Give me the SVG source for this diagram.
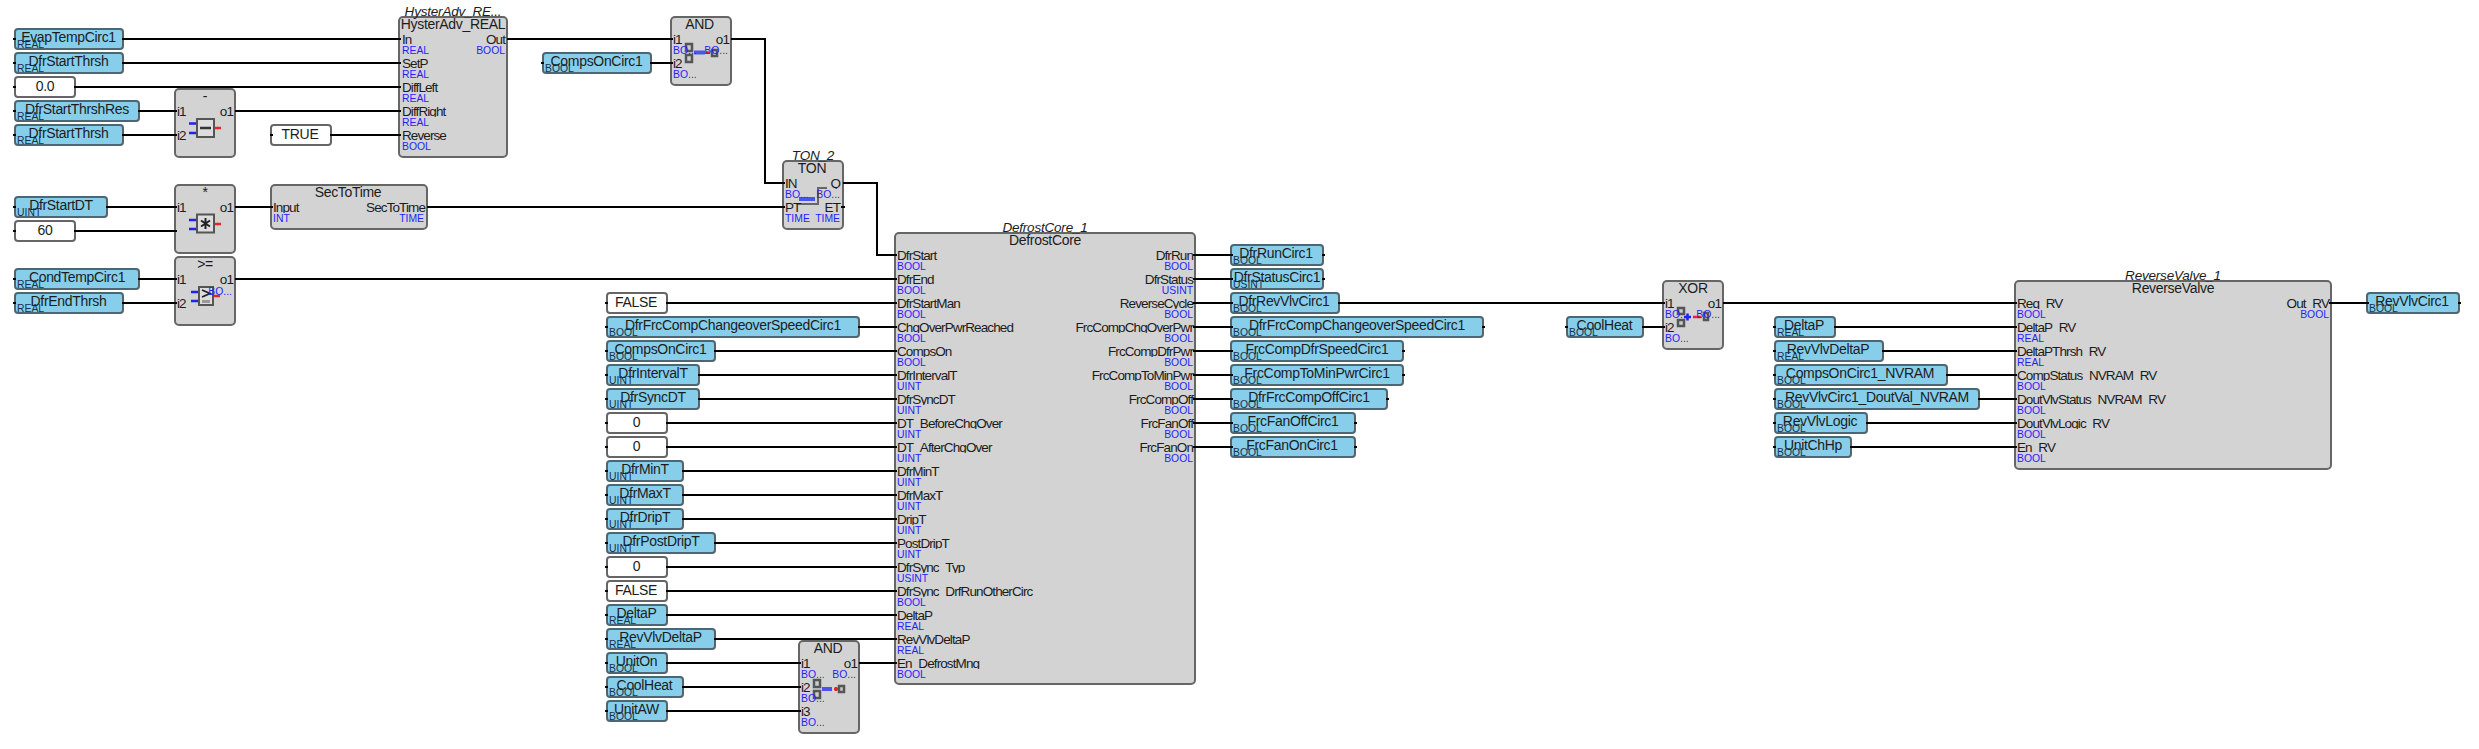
<svg xmlns="http://www.w3.org/2000/svg" width="2479" height="749" viewBox="0 0 2479 749">
<style>
text{font-family:"Liberation Sans",Arial,sans-serif;fill:#1c1c1c}
.b{fill:#d3d3d3;stroke:#666;stroke-width:2}
.v{fill:#87ceeb;stroke:#4f6672;stroke-width:2}
.c{fill:#fff;stroke:#666;stroke-width:2}
.vn,.cn,.tt{font-size:14px;letter-spacing:-.32px;text-anchor:middle}
.vt{font-size:10.4px;fill:#16304e}
.it{font-size:13.5px;letter-spacing:-.2px;font-style:italic;text-anchor:middle;clip-path:url(#tops)}
.n,.nr{font-size:13.5px;letter-spacing:-.9px;clip-path:url(#rows)}
.nr{text-anchor:end}
.t,.tr{font-size:10.4px;fill:#1f1fff}
.tr{text-anchor:end}
.w{fill:none;stroke:#000;stroke-width:2}
.ic{fill:#ddd;stroke:#555;stroke-width:2}
.id{fill:#ccc;stroke:#555;stroke-width:2.500}
.ib{stroke:#1f1fff;stroke-width:2.500;fill:none}
.ia{stroke:#4a55ee;stroke-width:4;fill:none}
.ir{stroke:#e22;stroke-width:2.500;fill:none}
</style>
<defs>
<clipPath id="rows"><path d="M0 29h2479v16H0zM0 53h2479v16H0zM0 77h2479v16H0zM0 101h2479v16H0zM0 125h2479v16H0zM0 197h2479v16H0zM0 173h2479v16H0zM0 245h2479v16H0zM0 269h2479v16H0zM0 293h2479v16H0zM0 317h2479v16H0zM0 341h2479v16H0zM0 365h2479v16H0zM0 389h2479v16H0zM0 413h2479v16H0zM0 437h2479v16H0zM0 461h2479v16H0zM0 485h2479v16H0zM0 509h2479v16H0zM0 533h2479v16H0zM0 557h2479v16H0zM0 581h2479v16H0zM0 605h2479v16H0zM0 629h2479v16H0zM0 653h2479v16H0zM0 677h2479v16H0zM0 701h2479v16H0z"/></clipPath>
<clipPath id="tops"><path d="M390 0h130v19H390zM780 145h70v18H780zM990 215h110v20H990zM2100 263h150v20H2100z"/></clipPath>
</defs>
<rect width="2479" height="749" fill="#fff"/>
<g id="inputs-left">
<g id="var-EvapTempCirc1"><rect class="v" x="15" y="29" width="108" height="20" rx="3"/><text class="vn" x="68.500" y="41.500">EvapTempCirc1</text><text class="vt" x="17" y="48">REAL</text></g>
<g id="var-DfrStartThrsh"><rect class="v" x="15" y="53" width="108" height="20" rx="3"/><text class="vn" x="68.500" y="65.500">DfrStartThrsh</text><text class="vt" x="17" y="72">REAL</text></g>
<g id="const-0-0"><rect class="c" x="15" y="77" width="60" height="20" rx="3"/><text class="cn" x="45" y="91">0.0</text></g>
<g id="var-DfrStartThrshRes"><rect class="v" x="15" y="101" width="124" height="20" rx="3"/><text class="vn" x="77" y="113.500">DfrStartThrshRes</text><text class="vt" x="17" y="120">REAL</text></g>
<g id="var-DfrStartThrsh-2"><rect class="v" x="15" y="125" width="108" height="20" rx="3"/><text class="vn" x="68.500" y="137.500">DfrStartThrsh</text><text class="vt" x="17" y="144">REAL</text></g>
<g id="const-TRUE"><rect class="c" x="271" y="125" width="60" height="20" rx="3"/><text class="cn" x="300" y="139">TRUE</text></g>
<g id="var-DfrStartDT"><rect class="v" x="15" y="197" width="92" height="20" rx="3"/><text class="vn" x="61" y="209.500">DfrStartDT</text><text class="vt" x="17" y="216">UINT</text></g>
<g id="const-60"><rect class="c" x="15" y="221" width="60" height="20" rx="3"/><text class="cn" x="45" y="235">60</text></g>
<g id="var-CondTempCirc1"><rect class="v" x="15" y="269" width="124" height="20" rx="3"/><text class="vn" x="77" y="281.500">CondTempCirc1</text><text class="vt" x="17" y="288">REAL</text></g>
<g id="var-DfrEndThrsh"><rect class="v" x="15" y="293" width="108" height="20" rx="3"/><text class="vn" x="68.500" y="305.500">DfrEndThrsh</text><text class="vt" x="17" y="312">REAL</text></g>
<g id="var-CompsOnCirc1"><rect class="v" x="543" y="53" width="108" height="20" rx="3"/><text class="vn" x="596.500" y="65.500">CompsOnCirc1</text><text class="vt" x="545" y="72">BOOL</text></g>
</g>
<g id="block-minus"><rect class="b" x="175" y="89" width="60" height="68" rx="4"/><text class="tt" x="205" y="101">-</text><text class="n" x="177" y="116">i1</text><text class="n" x="177" y="140">i2</text><text class="nr" x="233" y="116">o1</text>
<path class="ib" d="M189 123.500h8M189 133h8"/><path class="ir" d="M214 128h7"/><rect class="ic" x="197" y="119" width="17" height="18"/><path d="M200 128h11" stroke="#333" stroke-width="2.500"/></g>
<g id="block-mul"><rect class="b" x="175" y="185" width="60" height="68" rx="4"/><text class="tt" x="205" y="197">*</text><text class="n" x="177" y="212">i1</text><text class="n" x="177" y="236">i2</text><text class="nr" x="233" y="212">o1</text>
<path class="ib" d="M189 220h8M189 229h8"/><path class="ir" d="M214 224h7"/><rect class="ic" x="197" y="214.500" width="17" height="18"/><path d="M205.500 218v11M201 220.500l9 6M210 220.500l-9 6" stroke="#222" stroke-width="2"/></g>
<g id="block-ge"><rect class="b" x="175" y="257" width="60" height="68" rx="4"/><text class="tt" x="205" y="269">&gt;=</text><text class="n" x="177" y="284">i1</text><text class="n" x="177" y="308">i2</text><text class="nr" x="233" y="284">o1</text>
<path class="ib" d="M191 292h8M191 301h8"/><path class="ir" d="M213 296h7"/><rect class="ic" x="199" y="287" width="14" height="18"/><path d="M202 290l8 3.500-8 3.500" stroke="#222" stroke-width="1.800" fill="none"/><path d="M202 300h8v3h-8z" fill="#999"/><text class="tr" x="232" y="295">BO...</text></g>
<g id="block-HysterAdv"><rect class="b" x="399" y="17" width="108" height="140" rx="4"/><text class="it" x="453" y="16">HysterAdv_RE...</text><text class="tt" x="453" y="29">HysterAdv_REAL</text>
<text class="n" x="402" y="44">In</text><text class="t" x="402" y="54">REAL</text><text class="n" x="402" y="68">SetP</text><text class="t" x="402" y="78">REAL</text><text class="n" x="402" y="92">DiffLeft</text><text class="t" x="402" y="102">REAL</text><text class="n" x="402" y="116">DiffRight</text><text class="t" x="402" y="126">REAL</text><text class="n" x="402" y="140">Reverse</text><text class="t" x="402" y="150">BOOL</text>
<text class="nr" x="505" y="44">Out</text><text class="tr" x="505" y="54">BOOL</text></g>
<g id="block-SecToTime"><rect class="b" x="271" y="185" width="156" height="44" rx="4"/><text class="tt" x="348" y="197">SecToTime</text><text class="n" x="273" y="212">Input</text><text class="t" x="273" y="222">INT</text><text class="nr" x="425" y="212">SecToTime</text><text class="tr" x="424" y="222">TIME</text></g>
<g id="block-AND-1"><rect class="b" x="671" y="17" width="60" height="68" rx="4"/><rect class="id" x="686" y="44" width="6" height="7"/><rect class="id" x="686" y="55" width="6" height="7"/><path class="ia" d="M694 52.500h11"/><path class="ir" d="M706 52.500h4"/><rect class="id" x="712" y="50" width="5" height="6"/>
<text class="tt" x="699.500" y="29">AND</text><text class="n" x="673" y="44">i1</text><text class="t" x="673" y="54">BO...</text><text class="n" x="673" y="68">i2</text><text class="t" x="673" y="78">BO...</text><text class="nr" x="729" y="44">o1</text><text class="tr" x="728" y="54">BO...</text></g>
<g id="block-TON"><rect class="b" x="783" y="161" width="60" height="68" rx="4"/><text class="it" x="813" y="160">TON_2</text><text class="tt" x="812" y="173">TON</text>
<path d="M797 204h21v-16h9" fill="none" stroke="#666" stroke-width="2"/><path class="ia" d="M799 199h16" stroke-width="2"/>
<text class="n" x="785" y="188">IN</text><text class="t" x="785" y="198">BO...</text><text class="n" x="785" y="212">PT</text><text class="t" x="785" y="222">TIME</text><text class="nr" x="840" y="188">Q</text><text class="tr" x="840" y="198">BO...</text><text class="nr" x="840" y="212">ET</text><text class="tr" x="840" y="222">TIME</text></g>
<g id="inputs-core">
<g id="const-FALSE"><rect class="c" x="607" y="293" width="60" height="20" rx="3"/><text class="cn" x="636" y="307">FALSE</text></g>
<g id="var-DfrFrcCompChangeoverSpeedCirc1"><rect class="v" x="607" y="317" width="252" height="20" rx="3"/><text class="vn" x="733" y="329.500">DfrFrcCompChangeoverSpeedCirc1</text><text class="vt" x="609" y="336">BOOL</text></g>
<g id="var-CompsOnCirc1-2"><rect class="v" x="607" y="341" width="108" height="20" rx="3"/><text class="vn" x="660.500" y="353.500">CompsOnCirc1</text><text class="vt" x="609" y="360">BOOL</text></g>
<g id="var-DfrIntervalT"><rect class="v" x="607" y="365" width="92" height="20" rx="3"/><text class="vn" x="653" y="377.500">DfrIntervalT</text><text class="vt" x="609" y="384">UINT</text></g>
<g id="var-DfrSyncDT"><rect class="v" x="607" y="389" width="92" height="20" rx="3"/><text class="vn" x="653" y="401.500">DfrSyncDT</text><text class="vt" x="609" y="408">UINT</text></g>
<g id="const-0-a"><rect class="c" x="607" y="413" width="60" height="20" rx="3"/><text class="cn" x="636.500" y="427">0</text></g>
<g id="const-0-b"><rect class="c" x="607" y="437" width="60" height="20" rx="3"/><text class="cn" x="636.500" y="451">0</text></g>
<g id="var-DfrMinT"><rect class="v" x="607" y="461" width="76" height="20" rx="3"/><text class="vn" x="645" y="473.500">DfrMinT</text><text class="vt" x="609" y="480">UINT</text></g>
<g id="var-DfrMaxT"><rect class="v" x="607" y="485" width="76" height="20" rx="3"/><text class="vn" x="645" y="497.500">DfrMaxT</text><text class="vt" x="609" y="504">UINT</text></g>
<g id="var-DfrDripT"><rect class="v" x="607" y="509" width="76" height="20" rx="3"/><text class="vn" x="645" y="521.500">DfrDripT</text><text class="vt" x="609" y="528">UINT</text></g>
<g id="var-DfrPostDripT"><rect class="v" x="607" y="533" width="108" height="20" rx="3"/><text class="vn" x="661" y="545.500">DfrPostDripT</text><text class="vt" x="609" y="552">UINT</text></g>
<g id="const-0-c"><rect class="c" x="607" y="557" width="60" height="20" rx="3"/><text class="cn" x="636.500" y="571">0</text></g>
<g id="const-FALSE-2"><rect class="c" x="607" y="581" width="60" height="20" rx="3"/><text class="cn" x="636" y="595">FALSE</text></g>
<g id="var-DeltaP"><rect class="v" x="607" y="605" width="60" height="20" rx="3"/><text class="vn" x="636.500" y="617.500">DeltaP</text><text class="vt" x="609" y="624">REAL</text></g>
<g id="var-RevVlvDeltaP"><rect class="v" x="607" y="629" width="108" height="20" rx="3"/><text class="vn" x="660.500" y="641.500">RevVlvDeltaP</text><text class="vt" x="609" y="648">REAL</text></g>
<g id="var-UnitOn"><rect class="v" x="607" y="653" width="60" height="20" rx="3"/><text class="vn" x="636.500" y="665.500">UnitOn</text><text class="vt" x="609" y="672">BOOL</text></g>
<g id="var-CoolHeat"><rect class="v" x="607" y="677" width="76" height="20" rx="3"/><text class="vn" x="644.500" y="689.500">CoolHeat</text><text class="vt" x="609" y="696">BOOL</text></g>
<g id="var-UnitAW"><rect class="v" x="607" y="701" width="60" height="20" rx="3"/><text class="vn" x="636.500" y="713.500">UnitAW</text><text class="vt" x="609" y="720">BOOL</text></g>
</g>
<g id="block-AND-2"><rect class="b" x="799" y="641" width="60" height="92" rx="4"/><rect class="id" x="814" y="680" width="6" height="7"/><rect class="id" x="814" y="691" width="6" height="7"/><path class="ia" d="M822 689h10"/><path class="ir" d="M834 689h4M836 687v4" stroke-width="2"/><rect class="id" x="839" y="686" width="5" height="6"/>
<text class="tt" x="828" y="653">AND</text><text class="n" x="801" y="668">i1</text><text class="t" x="801" y="678">BO...</text><text class="n" x="801" y="692">i2</text><text class="t" x="801" y="702">BO...</text><text class="n" x="801" y="716">i3</text><text class="t" x="801" y="726">BO...</text><text class="nr" x="857" y="668">o1</text><text class="tr" x="856" y="678">BO...</text></g>
<g id="block-DefrostCore"><rect class="b" x="895" y="233" width="300" height="451" rx="4"/><text class="it" x="1045" y="232">DefrostCore_1</text><text class="tt" x="1045" y="245">DefrostCore</text>
<text class="n" x="897" y="260">DfrStart</text><text class="t" x="897" y="270">BOOL</text>
<text class="n" x="897" y="284">DfrEnd</text><text class="t" x="897" y="294">BOOL</text>
<text class="n" x="897" y="308">DfrStartMan</text><text class="t" x="897" y="318">BOOL</text>
<text class="n" x="897" y="332">ChgOverPwrReached</text><text class="t" x="897" y="342">BOOL</text>
<text class="n" x="897" y="356">CompsOn</text><text class="t" x="897" y="366">BOOL</text>
<text class="n" x="897" y="380">DfrIntervalT</text><text class="t" x="897" y="390">UINT</text>
<text class="n" x="897" y="404">DfrSyncDT</text><text class="t" x="897" y="414">UINT</text>
<text class="n" x="897" y="428">DT_BeforeChgOver</text><text class="t" x="897" y="438">UINT</text>
<text class="n" x="897" y="452">DT_AfterChgOver</text><text class="t" x="897" y="462">UINT</text>
<text class="n" x="897" y="476">DfrMinT</text><text class="t" x="897" y="486">UINT</text>
<text class="n" x="897" y="500">DfrMaxT</text><text class="t" x="897" y="510">UINT</text>
<text class="n" x="897" y="524">DripT</text><text class="t" x="897" y="534">UINT</text>
<text class="n" x="897" y="548">PostDripT</text><text class="t" x="897" y="558">UINT</text>
<text class="n" x="897" y="572">DfrSync_Typ</text><text class="t" x="897" y="582">USINT</text>
<text class="n" x="897" y="596">DfrSync_DrfRunOtherCirc</text><text class="t" x="897" y="606">BOOL</text>
<text class="n" x="897" y="620">DeltaP</text><text class="t" x="897" y="630">REAL</text>
<text class="n" x="897" y="644">RevVlvDeltaP</text><text class="t" x="897" y="654">REAL</text>
<text class="n" x="897" y="668">En_DefrostMng</text><text class="t" x="897" y="678">BOOL</text>
<text class="nr" x="1193" y="260">DfrRun</text><text class="tr" x="1193" y="270">BOOL</text>
<text class="nr" x="1193" y="284">DfrStatus</text><text class="tr" x="1193" y="294">USINT</text>
<text class="nr" x="1193" y="308">ReverseCycle</text><text class="tr" x="1193" y="318">BOOL</text>
<text class="nr" x="1193" y="332">FrcCompChgOverPwr</text><text class="tr" x="1193" y="342">BOOL</text>
<text class="nr" x="1193" y="356">FrcCompDfrPwr</text><text class="tr" x="1193" y="366">BOOL</text>
<text class="nr" x="1193" y="380">FrcCompToMinPwr</text><text class="tr" x="1193" y="390">BOOL</text>
<text class="nr" x="1193" y="404">FrcCompOff</text><text class="tr" x="1193" y="414">BOOL</text>
<text class="nr" x="1193" y="428">FrcFanOff</text><text class="tr" x="1193" y="438">BOOL</text>
<text class="nr" x="1193" y="452">FrcFanOn</text><text class="tr" x="1193" y="462">BOOL</text></g>
<g id="outputs-core">
<g id="var-DfrRunCirc1"><rect class="v" x="1231" y="245" width="92" height="20" rx="3"/><text class="vn" x="1276" y="257.500">DfrRunCirc1</text><text class="vt" x="1233" y="264">BOOL</text></g>
<g id="var-DfrStatusCirc1"><rect class="v" x="1231" y="269" width="92" height="20" rx="3"/><text class="vn" x="1277" y="281.500">DfrStatusCirc1</text><text class="vt" x="1233" y="288">USINT</text></g>
<g id="var-DfrRevVlvCirc1"><rect class="v" x="1231" y="293" width="108" height="20" rx="3"/><text class="vn" x="1284" y="305.500">DfrRevVlvCirc1</text><text class="vt" x="1233" y="312">BOOL</text></g>
<g id="var-DfrFrcCompChangeoverSpeedCirc1-out"><rect class="v" x="1231" y="317" width="252" height="20" rx="3"/><text class="vn" x="1357" y="329.500">DfrFrcCompChangeoverSpeedCirc1</text><text class="vt" x="1233" y="336">BOOL</text></g>
<g id="var-FrcCompDfrSpeedCirc1"><rect class="v" x="1231" y="341" width="172" height="20" rx="3"/><text class="vn" x="1317" y="353.500">FrcCompDfrSpeedCirc1</text><text class="vt" x="1233" y="360">BOOL</text></g>
<g id="var-FrcCompToMinPwrCirc1"><rect class="v" x="1231" y="365" width="172" height="20" rx="3"/><text class="vn" x="1317" y="377.500">FrcCompToMinPwrCirc1</text><text class="vt" x="1233" y="384">BOOL</text></g>
<g id="var-DfrFrcCompOffCirc1"><rect class="v" x="1231" y="389" width="156" height="20" rx="3"/><text class="vn" x="1309" y="401.500">DfrFrcCompOffCirc1</text><text class="vt" x="1233" y="408">BOOL</text></g>
<g id="var-FrcFanOffCirc1"><rect class="v" x="1231" y="413" width="124" height="20" rx="3"/><text class="vn" x="1293" y="425.500">FrcFanOffCirc1</text><text class="vt" x="1233" y="432">BOOL</text></g>
<g id="var-FrcFanOnCirc1"><rect class="v" x="1231" y="437" width="124" height="20" rx="3"/><text class="vn" x="1292" y="449.500">FrcFanOnCirc1</text><text class="vt" x="1233" y="456">BOOL</text></g>
</g>
<g id="var-CoolHeat-2"><rect class="v" x="1567" y="317" width="76" height="20" rx="3"/><text class="vn" x="1604.500" y="329.500">CoolHeat</text><text class="vt" x="1569" y="336">BOOL</text></g>
<g id="block-XOR"><rect class="b" x="1663" y="281" width="60" height="68" rx="4"/><rect class="id" x="1678" y="308" width="6" height="6"/><rect class="id" x="1678" y="320" width="6" height="6"/><path class="ib" d="M1684 317h7M1687.500 313.500v7"/><path class="ir" d="M1693 317h8"/><rect class="id" x="1704" y="313" width="4" height="7"/>
<text class="tt" x="1693" y="293">XOR</text><text class="n" x="1665" y="308">i1</text><text class="t" x="1665" y="318">BO...</text><text class="n" x="1665" y="332">i2</text><text class="t" x="1665" y="342">BO...</text><text class="nr" x="1721" y="308">o1</text><text class="tr" x="1720" y="318">BO...</text></g>
<g id="inputs-rv">
<g id="var-DeltaP-2"><rect class="v" x="1775" y="317" width="60" height="20" rx="3"/><text class="vn" x="1804" y="329.500">DeltaP</text><text class="vt" x="1777" y="336">REAL</text></g>
<g id="var-RevVlvDeltaP-2"><rect class="v" x="1775" y="341" width="108" height="20" rx="3"/><text class="vn" x="1828" y="353.500">RevVlvDeltaP</text><text class="vt" x="1777" y="360">REAL</text></g>
<g id="var-CompsOnCirc1_NVRAM"><rect class="v" x="1775" y="365" width="172" height="20" rx="3"/><text class="vn" x="1860" y="377.500">CompsOnCirc1_NVRAM</text><text class="vt" x="1777" y="384">BOOL</text></g>
<g id="var-RevVlvCirc1_DoutVal_NVRAM"><rect class="v" x="1775" y="389" width="204" height="20" rx="3"/><text class="vn" x="1877" y="401.500">RevVlvCirc1_DoutVal_NVRAM</text><text class="vt" x="1777" y="408">BOOL</text></g>
<g id="var-RevVlvLogic"><rect class="v" x="1775" y="413" width="92" height="20" rx="3"/><text class="vn" x="1820" y="425.500">RevVlvLogic</text><text class="vt" x="1777" y="432">BOOL</text></g>
<g id="var-UnitChHp"><rect class="v" x="1775" y="437" width="76" height="20" rx="3"/><text class="vn" x="1813" y="449.500">UnitChHp</text><text class="vt" x="1777" y="456">BOOL</text></g>
</g>
<g id="block-ReverseValve"><rect class="b" x="2015" y="281" width="316" height="188" rx="4"/><text class="it" x="2173" y="280">ReverseValve_1</text><text class="tt" x="2173" y="293">ReverseValve</text>
<text class="n" x="2017" y="308">Req_RV</text><text class="t" x="2017" y="318">BOOL</text>
<text class="n" x="2017" y="332">DeltaP_RV</text><text class="t" x="2017" y="342">REAL</text>
<text class="n" x="2017" y="356">DeltaPThrsh_RV</text><text class="t" x="2017" y="366">REAL</text>
<text class="n" x="2017" y="380">CompStatus_NVRAM_RV</text><text class="t" x="2017" y="390">BOOL</text>
<text class="n" x="2017" y="404">DoutVlvStatus_NVRAM_RV</text><text class="t" x="2017" y="414">BOOL</text>
<text class="n" x="2017" y="428">DoutVlvLogic_RV</text><text class="t" x="2017" y="438">BOOL</text>
<text class="n" x="2017" y="452">En_RV</text><text class="t" x="2017" y="462">BOOL</text>
<text class="nr" x="2329" y="308">Out_RV</text><text class="tr" x="2329" y="318">BOOL</text></g>
<g id="var-RevVlvCirc1"><rect class="v" x="2367" y="293" width="92" height="20" rx="3"/><text class="vn" x="2412" y="305.500">RevVlvCirc1</text><text class="vt" x="2369" y="312">BOOL</text></g>
<g id="connectors">
<path class="w" d="M122 39H401M122 63H401M74 87H401M138 111H177M122 135H177M235 111H401M330 135H401M106 207H177M74 231H177M235 207H273M427 207H785M138 279H177M122 303H177M235 279H897M650 63H673M507 39H673M731 39H765V183H785M843 183H877V255H897"/>
<path class="w" d="M666 303H897M858 327H897M714 351H897M698 375H897M698 399H897M666 423H897M666 447H897M682 471H897M682 495H897M682 519H897M714 543H897M666 567H897M666 591H897M666 615H897M714 639H897M666 663H801M682 687H801M666 711H801M859 663H897"/>
<path class="w" d="M1193 255H1233M1193 279H1233M1193 303H1233M1193 327H1233M1193 351H1233M1193 375H1233M1193 399H1233M1193 423H1233M1193 447H1233M1338 303H1665M1642 327H1665M1723 303H2017M1834 327H2017M1882 351H2017M1946 375H2017M1978 399H2017M1866 423H2017M1850 447H2017M2329 303H2369"/>
<path class="w" d="M13 39h3M13 63h3M13 87h3M13 111h3M13 135h3M13 207h3M13 231h3M13 279h3M13 303h3M270 135h3M541 63h3M605 303h3M605 327h3M605 351h3M605 375h3M605 399h3M605 423h3M605 447h3M605 471h3M605 495h3M605 519h3M605 543h3M605 567h3M605 591h3M605 615h3M605 639h3M605 663h3M605 687h3M605 711h3M1565 327h3M1773 327h3M1773 351h3M1773 375h3M1773 399h3M1773 423h3M1773 447h3M841 207h4M1322 255h3M1322 279h3M1482 327h3M1402 351h3M1402 375h3M1386 399h3M1354 423h3M1354 447h3M2458 303h3"/>
</g>
</svg>
